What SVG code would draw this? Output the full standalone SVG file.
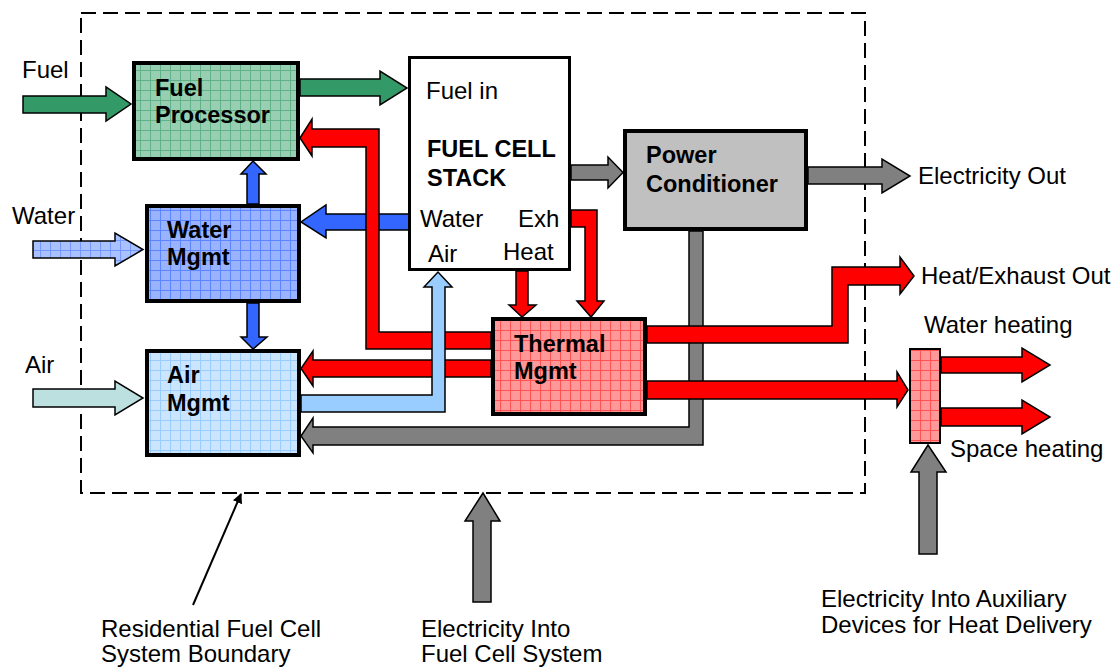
<svg xmlns="http://www.w3.org/2000/svg" width="1116" height="667" viewBox="0 0 1116 667">
<style>
text{font-family:"Liberation Sans",Arial,sans-serif;font-size:24px;fill:#000}
.b{font-weight:bold;font-size:23.5px}
.box{stroke:#000;stroke-width:4}
.ar{stroke:#000;stroke-width:1.5;stroke-linejoin:miter}
.red{fill:#FF0000}
.gray{fill:#808080}
.blue{fill:#3366FF}
.green{fill:#339966}
</style>
<defs>
<pattern id="pG" width="10" height="10" patternUnits="userSpaceOnUse">
<rect width="10" height="10" fill="#98CFB3"/>
<path d="M0 0.5H10M0.5 0V10" stroke="#3C9C6C" stroke-width="1" opacity="0.6"/>
</pattern>
<pattern id="pB" width="10" height="10" patternUnits="userSpaceOnUse">
<rect width="10" height="10" fill="#99B3FF"/>
<path d="M0 0.5H10M0.5 0V10" stroke="#3366FF" stroke-width="1" opacity="0.6"/>
</pattern>
<pattern id="pW" width="10" height="10" patternUnits="userSpaceOnUse">
<rect width="10" height="10" fill="#A9C1FF"/>
<path d="M0 0.5H10M0.5 0V10" stroke="#3366FF" stroke-width="1" opacity="0.45"/>
</pattern>
<pattern id="pL" width="10" height="10" patternUnits="userSpaceOnUse">
<rect width="10" height="10" fill="#CCE5FF"/>
<path d="M0 0.5H10M0.5 0V10" stroke="#99CCFF" stroke-width="1"/>
</pattern>
<pattern id="pR" width="10" height="10" patternUnits="userSpaceOnUse">
<rect width="10" height="10" fill="#FF9999"/>
<path d="M0 0.5H10M0.5 0V10" stroke="#FF3333" stroke-width="1" opacity="0.7"/>
</pattern>
<marker id="mk" markerWidth="10" markerHeight="10" refX="9" refY="5" orient="auto" markerUnits="userSpaceOnUse" viewBox="0 0 10 10">
<path d="M0 0L10 5L0 10z" fill="#000"/>
</marker>
</defs>
<rect width="1116" height="667" fill="#fff"/>

<g id="boundary">
<rect x="81" y="13" width="784" height="480" fill="none" stroke="#000" stroke-width="2" stroke-dasharray="15 7"/>
</g>

<g id="connectors">
<polygon class="ar green" points="23,96 106,96 106,87 131,104 106,121 106,113 23,113"/>
<polygon class="ar" fill="url(#pW)" points="33,241 115,241 115,233 143,249.5 115,266 115,258 33,258"/>
<polygon class="ar" fill="#BCE0E0" points="33,389 115,389 115,381 143,398 115,415 115,407 33,407"/>
<polygon class="ar green" points="300,79 380,79 380,71 407,88 380,105 380,96 300,96"/>
<polygon class="ar gray" points="301,436 313,418 313,427 689,427 689,231 703,231 703,445 313,445 313,453"/>
<polygon class="ar blue" points="409,214 326,214 326,205 301,222 326,238 326,230 409,230"/>
<polygon class="ar blue" points="247,204 247,174 241,174 253,161 266,174 259,174 259,204"/>
<polygon class="ar blue" points="247,303 247,337 241,337 253,349 267,337 259,337 259,303"/>
<polygon class="ar red" points="300,138 312,119 312,129 379,129 379,332 491,332 491,349 366,349 366,147 312,147 312,156"/>
<polygon class="ar red" points="491,360 313,360 313,351 301,368.5 313,386 313,377 491,377"/>
<polygon class="ar red" points="516,271 528,271 528,305 536,305 522,317 509,305 516,305"/>
<polygon class="ar red" points="571,210 597,210 597,301 604,301 591,317 577,301 585,301 585,227 571,227"/>
<polygon class="ar red" points="647,326 832,326 832,267 900,267 900,257 914,276 900,294 900,285 848,285 848,343 647,343"/>
<polygon class="ar red" points="647,381 897,381 897,372 908,390 897,407 897,399 647,399"/>
<polygon class="ar red" points="941,357 1022,357 1022,348 1050,365 1022,382 1022,373 941,373"/>
<polygon class="ar red" points="941,408 1022,408 1022,400 1050,417 1022,434 1022,426 941,426"/>
<polygon class="ar" fill="#99CCFF" points="301,395 432,395 432,287 424,287 438,272 452,287 445,287 445,412 301,412"/>
<polygon class="ar gray" points="571,165 608,165 608,157 623,172.5 608,188 608,180 571,180"/>
<polygon class="ar gray" points="808,167 882,167 882,159 910,176 882,193 882,184 808,184"/>
<polygon class="ar gray" points="473,602 473,521 465,521 483,493 500,521 491,521 491,602"/>
<polygon class="ar gray" points="919,554 919,472 911,472 928,445 946,472 937,472 937,554"/>
<line x1="193" y1="605" x2="241" y2="494" stroke="#000" stroke-width="2" marker-end="url(#mk)"/>
</g>

<g id="fuel-processor">
<rect class="box" x="134" y="63" width="164" height="96" fill="url(#pG)"/>
<text class="b" x="155" y="96">Fuel</text>
<text class="b" x="155" y="123">Processor</text>
</g>
<g id="water-mgmt">
<rect class="box" x="147" y="206" width="152" height="95" fill="url(#pB)"/>
<text class="b" x="167" y="238">Water</text>
<text class="b" x="167" y="265">Mgmt</text>
</g>
<g id="air-mgmt">
<rect class="box" x="147" y="351" width="152" height="104" fill="url(#pL)"/>
<text class="b" x="167" y="383">Air</text>
<text class="b" x="167" y="411">Mgmt</text>
</g>
<g id="fuel-cell-stack">
<rect x="409.5" y="57.5" width="160" height="212" fill="#fff" stroke="#000" stroke-width="3"/>
<text x="426" y="99">Fuel in</text>
<text class="b" x="427" y="157">FUEL CELL</text>
<text class="b" x="427" y="186">STACK</text>
<text x="420" y="227">Water</text>
<text x="518" y="227">Exh</text>
<text x="428" y="262">Air</text>
<text x="503" y="260">Heat</text>
</g>
<g id="power-conditioner">
<rect class="box" x="625" y="131" width="181" height="98" fill="#C0C0C0"/>
<text class="b" x="646" y="163">Power</text>
<text class="b" x="646" y="192">Conditioner</text>
</g>
<g id="thermal-mgmt">
<rect class="box" x="493" y="319" width="152" height="95" fill="url(#pR)"/>
<text class="b" x="514" y="352">Thermal</text>
<text class="b" x="514" y="379">Mgmt</text>
</g>
<g id="heat-exchanger">
<rect x="910" y="349" width="30" height="94" fill="url(#pR)" stroke="#000" stroke-width="2"/>
</g>

<g id="labels">
<text x="22" y="78">Fuel</text>
<text x="12" y="224">Water</text>
<text x="25" y="373">Air</text>
<text x="918" y="184">Electricity Out</text>
<text x="921" y="284">Heat/Exhaust Out</text>
<text x="924" y="333">Water heating</text>
<text x="950" y="457">Space heating</text>
<text x="101" y="637">Residential Fuel Cell</text>
<text x="101" y="662">System Boundary</text>
<text x="421" y="637">Electricity Into</text>
<text x="421" y="662">Fuel Cell System</text>
<text x="821" y="607">Electricity Into Auxiliary</text>
<text x="821" y="633">Devices for Heat Delivery</text>
</g>
</svg>
